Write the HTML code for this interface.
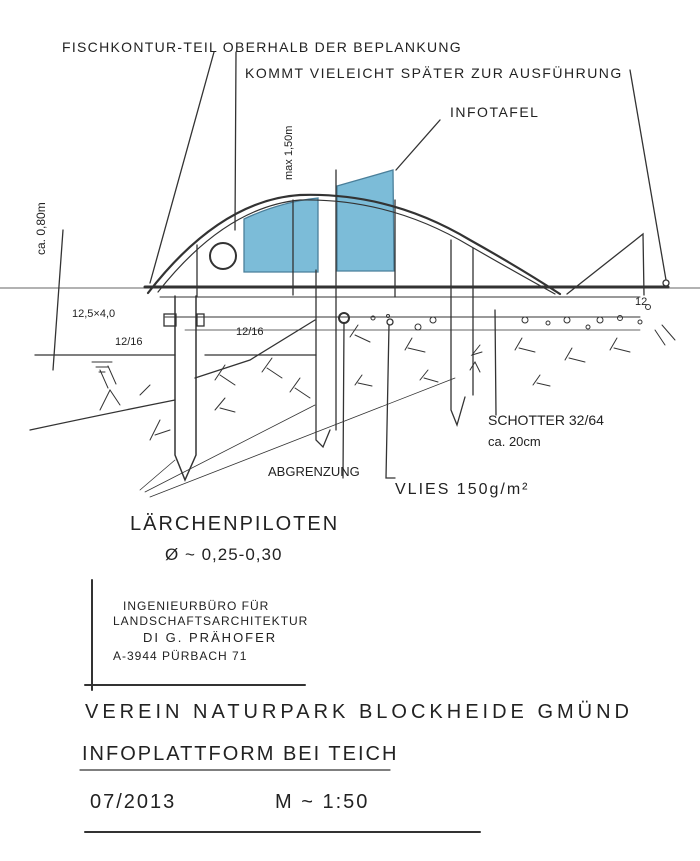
<!DOCTYPE html>
<html><head><meta charset="utf-8"><style>
html,body{margin:0;padding:0;background:#fff;}
svg{display:block}
text{font-family:"Liberation Sans",sans-serif;fill:#222;}
</style></head><body>
<svg width="700" height="861" viewBox="0 0 700 861" xmlns="http://www.w3.org/2000/svg">
<g stroke="#333" fill="none" stroke-width="1.3" stroke-linecap="round">
<path d="M244 219 Q280 202 318 198 L318 272 L244 272 Z" fill="#7cbcd8" stroke="#4a7f9a"/>
<path d="M337 186 L393 170 L394 271 L337 271 Z" fill="#7cbcd8" stroke="#4a7f9a"/>
<path d="M148 293 Q220 200 300 195 Q390 192 470 240 Q520 268 560 294" stroke-width="2.2"/>
<path d="M158 292 Q225 207 300 200 Q390 198 470 246 Q515 272 555 294" stroke-width="1.2"/>
<path d="M567 294 L643 234 L644 295"/>
<line x1="145" y1="287" x2="668" y2="287" stroke-width="3"/>
<line x1="0" y1="288" x2="700" y2="288" stroke-width="0.8"/>
<line x1="160" y1="297" x2="640" y2="297" stroke-width="1"/>
<line x1="165" y1="317" x2="640" y2="317" stroke-width="1"/>
<line x1="185" y1="330" x2="640" y2="330" stroke-width="0.8"/>
<path d="M175 296 L175 455 L185 480 L196 455 L196 296" stroke-width="1.5"/>
<path d="M316 270 L316 440 L323 447 L330 430 M336 170 L336 430"/>
<path d="M451 240 L451 410 L457 425 L465 397 M473 248 L473 395"/>
<line x1="293" y1="200" x2="293" y2="295"/>
<line x1="197" y1="245" x2="197" y2="297"/>
<line x1="395" y1="200" x2="395" y2="297"/>
<circle cx="223" cy="256" r="13" stroke-width="2"/>
<circle cx="344" cy="318" r="5" stroke-width="2"/>
<line x1="344" y1="323" x2="343" y2="478"/>
<circle cx="390" cy="322" r="3"/>
<path d="M389 325 L386 478 L395 478"/>
<circle cx="666" cy="283" r="3"/>
<rect x="164" y="314" width="12" height="12"/>
<rect x="197" y="314" width="7" height="12"/>
<line x1="214" y1="52" x2="150" y2="283"/>
<line x1="236" y1="52" x2="235" y2="230"/>
<line x1="630" y1="70" x2="666" y2="280"/>
<line x1="440" y1="120" x2="396" y2="170"/>
<line x1="145" y1="492" x2="315" y2="405" stroke-width="0.8"/>
<line x1="150" y1="497" x2="455" y2="378" stroke-width="0.8"/>
<line x1="140" y1="490" x2="175" y2="460" stroke-width="0.8"/>
<line x1="495" y1="310" x2="496" y2="415"/>
<line x1="63" y1="230" x2="53" y2="370"/>
<line x1="35" y1="355" x2="175" y2="355"/>
<path d="M30 430 Q100 415 175 400"/>
<path d="M195 378 L250 360 L315 320"/>
<line x1="205" y1="355" x2="316" y2="355"/>
<!-- soil hatches -->
<g stroke-width="1">
<path d="M100 410 L110 390 L120 405 M140 395 L150 385"/>
<path d="M150 440 L160 420 M155 435 L170 430"/>
<path d="M215 380 L225 365 M220 375 L235 385"/>
<path d="M262 372 L272 358 M267 368 L282 378"/>
<path d="M290 392 L300 378 M295 388 L310 398"/>
<path d="M215 410 L225 398 M220 408 L235 412"/>
<path d="M350 337 L358 325 M355 335 L370 342"/>
<path d="M405 350 L412 338 M408 348 L425 352"/>
<path d="M355 385 L362 375 M358 383 L372 386"/>
<path d="M420 380 L428 370 M424 378 L438 382"/>
<path d="M515 350 L522 338 M519 348 L535 352"/>
<path d="M565 360 L572 348 M569 358 L585 362"/>
<path d="M610 350 L617 338 M614 348 L630 352"/>
<path d="M533 385 L540 375 M537 383 L550 386"/>
<path d="M480 345 L472 355 L482 352"/>
<path d="M470 370 L475 362 L480 372"/>
<path d="M655 330 L665 345 M662 325 L675 340"/>
<path d="M100 370 L108 388 M108 366 L116 384"/>
</g>
<!-- gravel -->
<g stroke-width="1">
<circle cx="373" cy="318" r="2"/><circle cx="388" cy="316" r="1.5"/>
<circle cx="418" cy="327" r="3"/><circle cx="433" cy="320" r="3"/>
<circle cx="525" cy="320" r="3"/><circle cx="548" cy="323" r="2"/>
<circle cx="567" cy="320" r="3"/><circle cx="600" cy="320" r="3"/>
<circle cx="620" cy="318" r="2.5"/><circle cx="648" cy="307" r="2.5"/>
<circle cx="588" cy="327" r="2"/><circle cx="640" cy="322" r="2"/>
</g>
<!-- water symbol -->
<g stroke-width="1"><line x1="92" y1="362" x2="112" y2="362"/><line x1="96" y1="367" x2="108" y2="367"/><line x1="99" y1="372" x2="105" y2="372"/></g>
<line x1="92" y1="580" x2="92" y2="690" stroke-width="2"/>
<line x1="85" y1="685" x2="305" y2="685" stroke-width="2"/>
<line x1="80" y1="770" x2="390" y2="770" stroke-width="1.2"/>
<line x1="85" y1="832" x2="480" y2="832" stroke-width="2"/>
</g>
<g font-size="13">
<text x="62" y="52" font-size="14" letter-spacing="1.3">FISCHKONTUR-TEIL OBERHALB DER BEPLANKUNG</text>
<text x="245" y="78" font-size="14" letter-spacing="1.5">KOMMT VIELEICHT SPÄTER ZUR AUSFÜHRUNG</text>
<text x="450" y="117" font-size="14" letter-spacing="1.5">INFOTAFEL</text>
<text x="292" y="180" transform="rotate(-90 292 180)" font-size="11">max 1,50m</text>
<text x="45" y="255" transform="rotate(-90 45 255)" font-size="12">ca. 0,80m</text>
<text x="72" y="317" font-size="11">12,5×4,0</text>
<text x="115" y="345" font-size="11">12/16</text>
<text x="236" y="335" font-size="11">12/16</text>
<text x="635" y="305" font-size="11">12</text>
<text x="488" y="425" font-size="14">SCHOTTER 32/64</text>
<text x="488" y="446" font-size="13">ca. 20cm</text>
<text x="268" y="476" font-size="13">ABGRENZUNG</text>
<text x="395" y="494" font-size="16" letter-spacing="2">VLIES 150g/m²</text>
<text x="130" y="530" font-size="20" letter-spacing="2">LÄRCHENPILOTEN</text>
<text x="165" y="560" font-size="17" letter-spacing="1">Ø ~ 0,25-0,30</text>
<text x="123" y="610" font-size="12" letter-spacing="1">INGENIEURBÜRO FÜR</text>
<text x="113" y="625" font-size="12" letter-spacing="1">LANDSCHAFTSARCHITEKTUR</text>
<text x="143" y="642" font-size="13" letter-spacing="2">DI G. PRÄHOFER</text>
<text x="113" y="660" font-size="12" letter-spacing="1">A-3944   PÜRBACH 71</text>
<text x="85" y="718" font-size="20" letter-spacing="4">VEREIN NATURPARK BLOCKHEIDE GMÜND</text>
<text x="82" y="760" font-size="20" letter-spacing="2">INFOPLATTFORM BEI TEICH</text>
<text x="90" y="808" font-size="20" letter-spacing="2">07/2013</text>
<text x="275" y="808" font-size="20" letter-spacing="2">M ~ 1:50</text>
</g>
</svg>
</body></html>
